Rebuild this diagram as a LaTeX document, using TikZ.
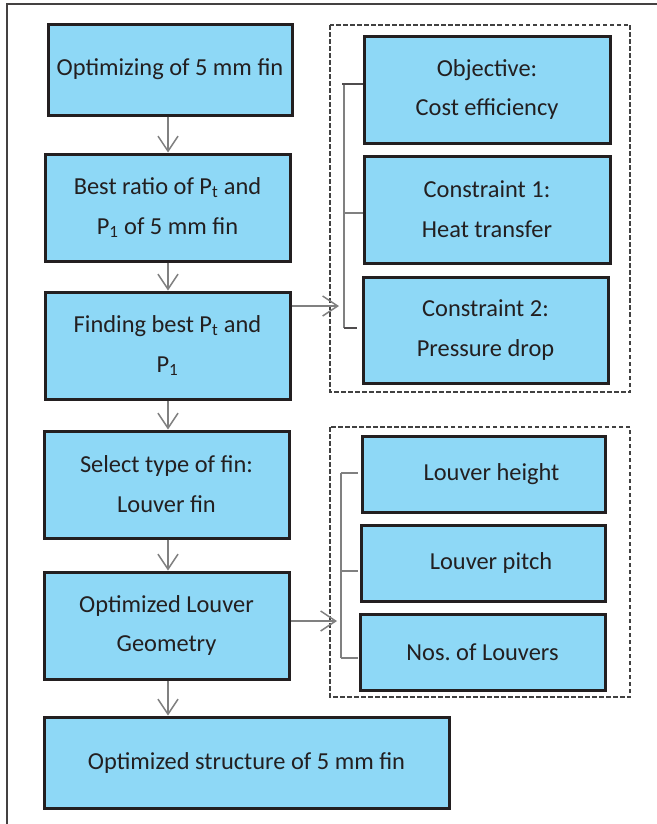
\documentclass[tikz,border=0pt]{standalone}
\usepackage{fontspec}
\setmainfont{Carlito}
\usetikzlibrary{arrows.meta}
\definecolor{boxfill}{RGB}{142,216,246}
\definecolor{boxline}{RGB}{35,31,32}
\definecolor{arrgray}{RGB}{128,128,128}
\definecolor{dashgray}{RGB}{65,65,65}
\tikzset{
  fbox/.style={draw=boxline, fill=boxfill, line width=3bp, inner sep=0pt, align=center,
     font=\fontsize{24.5}{40}\selectfont, text=boxline},
  flow/.style={draw=arrgray, line width=1.5bp, -{Straight Barb[length=15bp,width=20bp,line width=1.5bp]}},
  brk/.style={draw=arrgray, line width=1.5bp},
  brkdark/.style={draw=boxline!80, line width=1.5bp},
  grp/.style={draw=dashgray, line width=2.6bp, dash pattern=on 4.5bp off 2.5bp},
}
\newcommand{\bx}[6]{% name, l, t, r, b, text
  \node[fbox, minimum width={(#4-#2-2)*1bp}, minimum height={(#5-#3-2)*1bp}]
    (#1) at ({(#2+#4)/2},{(#3+#5)/2}) {#6};}
\begin{document}
\frenchspacing
\begin{tikzpicture}[x=1bp,y=-1bp]
\useasboundingbox (0,0) rectangle (657,824);
% outer frame
\draw[line width=1.5bp, draw=boxline!85] (7,824) -- (7,4) -- (657,4);
% dashed groups
\draw[grp] (330,25) rectangle (630,392);
\draw[grp] (330,427) rectangle (630,697);
% left column
\bx{b1}{47}{23}{293}{116}{Optimizing of 5 mm fin}
\bx{b2}{44}{153}{291}{262}{Best ratio of P\textsubscript{t} and\\P\textsubscript{1} of 5 mm fin}
\bx{b3}{44}{291}{291}{400}{Finding best P\textsubscript{t} and\\P\textsubscript{1}}
\bx{b4}{43}{430}{290}{539}{Select type of fin:\\Louver fin}
\bx{b5}{43}{571}{290}{680}{Optimized Louver\\Geometry}
\bx{b6}{43}{716}{450}{809}{Optimized structure of 5 mm fin}
% right groups
\bx{r1}{363}{35}{611}{144}{Objective:\\Cost efficiency}
\bx{r2}{363}{155}{611}{264}{Constraint 1:\\Heat transfer}
\bx{r3}{362}{276}{609}{384}{Constraint 2:\\Pressure drop}
\bx{s1}{361}{435}{606}{513}{\hspace*{16bp}Louver height}
\bx{s2}{360}{524}{606}{602}{\hspace*{16bp}Louver pitch}
\bx{s3}{359}{613}{606}{691}{Nos. of Louvers}
% vertical arrows
\draw[flow] (b1.south -| 168,0) -- (b2.north -| 168,0);
\draw[flow] (b2.south -| 168,0) -- (b3.north -| 168,0);
\draw[flow] (b3.south -| 168,0) -- (b4.north -| 168,0);
\draw[flow] (b4.south -| 168,0) -- (b5.north -| 168,0);
\draw[flow] (b5.south -| 168,0) -- (b6.north -| 168,0);
% bracket 1
\coordinate (k1t) at (344,84);
\coordinate (k1b) at (344,328);
\coordinate (k1e) at (357,328);
\draw[brk] (k1t) -- (k1b);
\draw[brkdark] (342,84) -- (r1.west |- k1t);
\draw[brk] (344,213) -- (r2.west |- 0,213);
\draw[brkdark] (k1b) -- (k1e);
\draw[flow] (b3.east |- 0,306) -- (339,306);
% bracket 2
\coordinate (k2t) at (341,473);
\coordinate (k2b) at (341,658);
\draw[brk] (k2t) -- (k2b);
\draw[brk] (k2t) -- (358,473);
\draw[brk] (341,571) -- (358,571);
\draw[brk] (k2b) -- (358,658);
\draw[flow] (b5.east |- 0,621) -- (337,621);
\end{tikzpicture}
\end{document}
